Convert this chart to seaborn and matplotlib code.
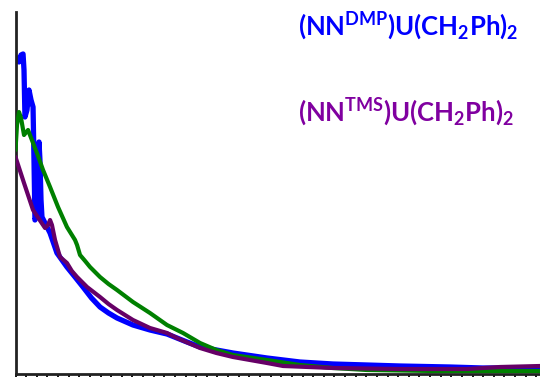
import matplotlib
matplotlib.use("Agg")
import matplotlib.pyplot as plt
import seaborn as sns
import pandas as pd

sns.set_theme(style="ticks")
plt.rcParams['font.family'] = ['Lato', 'DejaVu Sans']
plt.rcParams['mathtext.fontset'] = 'custom'
plt.rcParams['mathtext.rm'] = 'Lato'
plt.rcParams['mathtext.bf'] = 'Lato:bold'
plt.rcParams['mathtext.it'] = 'Lato:italic'

# Time axis (arbitrary units) and normalized intensities
t_dmp = [0.0, 0.14, 0.33, 0.52, 0.71, 0.80, 0.89, 1.08, 1.27, 1.46, 1.65, 1.74, 1.83,
         2.02, 2.12, 2.21, 2.30, 2.40, 2.49, 2.87, 3.25, 3.90, 4.84, 5.60, 6.35, 7.15,
         7.95, 8.75, 9.55, 11.05, 12.65, 14.25, 16.13, 17.36, 20.46, 23.66, 26.76,
         29.87, 33.07, 36.17, 40.87, 43.98, 49.34]
y_dmp = [3.12, 3.16, 3.12, 3.19, 3.20, 3.04, 2.57, 2.64, 2.84, 2.74, 2.67, 2.14, 1.54,
         1.59, 1.94, 2.32, 2.14, 1.74, 1.57, 1.49, 1.41, 1.21, 1.07, 0.97, 0.87, 0.76,
         0.67, 0.61, 0.56, 0.49, 0.44, 0.40, 0.32, 0.27, 0.21, 0.16, 0.12,
         0.10, 0.09, 0.08, 0.07, 0.06, 0.06]

t_green = [0.0, 0.14, 0.33, 0.52, 0.80, 1.18, 1.65, 2.12, 2.59, 3.25, 4.00, 4.84, 5.60,
           5.79, 6.07, 6.55, 7.01, 7.95, 8.75, 9.55, 11.05, 12.65, 14.25, 15.76, 17.36,
           18.90, 20.46, 23.66, 26.76, 29.87, 33.07, 39.28, 49.34]
y_green = [2.24, 2.49, 2.62, 2.56, 2.39, 2.44, 2.31, 2.18, 2.04, 1.87, 1.67, 1.47, 1.34,
           1.29, 1.19, 1.13, 1.07, 0.97, 0.90, 0.84, 0.72, 0.61, 0.49, 0.41, 0.31,
           0.24, 0.19, 0.14, 0.09, 0.06, 0.04, 0.03, 0.03]

t_tms = [0.0, 0.80, 1.65, 2.21, 2.78, 3.06, 3.25, 3.43, 3.72, 4.19, 4.84, 5.30, 5.79,
         6.73, 7.95, 8.75, 9.55, 11.05, 12.65, 14.25, 15.19, 17.36, 18.90, 20.46,
         23.66, 25.17, 29.87, 36.17, 42.47, 45.58, 49.34]
y_tms = [2.17, 1.91, 1.64, 1.55, 1.46, 1.49, 1.54, 1.49, 1.34, 1.17, 1.11, 1.03, 0.97,
         0.87, 0.77, 0.70, 0.64, 0.54, 0.46, 0.41, 0.36, 0.26, 0.21, 0.17,
         0.11, 0.08, 0.06, 0.05, 0.05, 0.07, 0.08]

label_dmp = r"$\mathbf{(NN^{DMP})U(CH_2Ph)_2}$"
label_tms = r"$\mathbf{(NN^{TMS})U(CH_2Ph)_2}$"

fig = plt.figure(figsize=(5.4, 3.77), dpi=100)
ax = fig.add_axes([15.5 / 540, 3 / 377, 1 - 15.5 / 540, 362 / 377])

sns.lineplot(x=t_dmp, y=y_dmp, ax=ax, color="#0000ff", lw=3.8, sort=False,
             estimator=None, zorder=2)
sns.lineplot(x=t_green, y=y_green, ax=ax, color="#008000", lw=3.0, sort=False,
             estimator=None, zorder=3)
sns.lineplot(x=t_tms, y=y_tms, ax=ax, color="#660066", lw=3.0, sort=False,
             estimator=None, zorder=4)

ax.set_xlim(0, 49.34)
ax.set_ylim(0, 3.62)
ax.set_xticks(range(0, 50))
ax.set_yticks([])
ax.tick_params(axis='x', direction='out', length=3, width=1.3, color='black',
               labelbottom=False)
for s in ['top', 'right']:
    ax.spines[s].set_visible(False)
for s in ['left', 'bottom']:
    ax.spines[s].set_linewidth(2)
    ax.spines[s].set_color('#222222')

fig.text(298 / 540, 1 - 26 / 377, label_dmp, color="#0000ff", fontsize=18.5,
         ha='left', va='center')
fig.text(298 / 540, 1 - 112 / 377, label_tms, color="#8000a0", fontsize=18.5,
         ha='left', va='center')

fig.savefig("out.png", dpi=100)
